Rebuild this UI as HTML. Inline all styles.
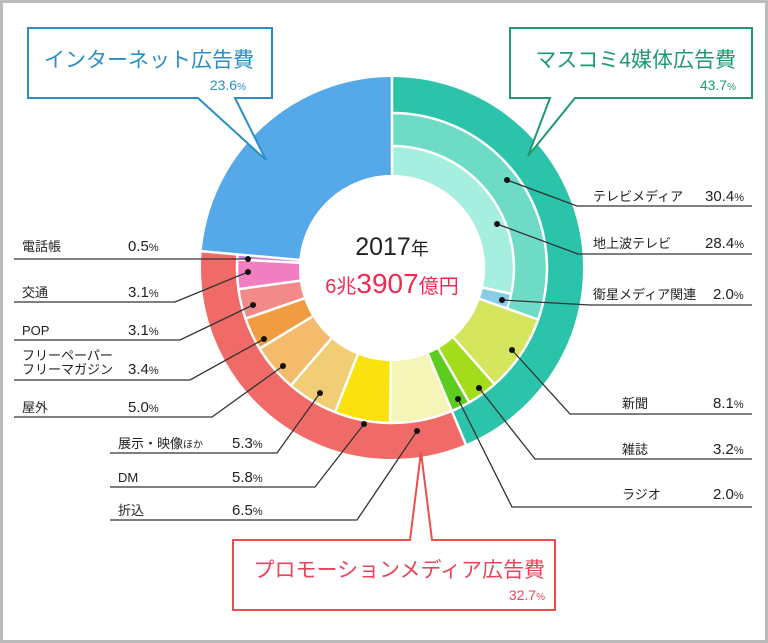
<!DOCTYPE html>
<html><head><meta charset="utf-8"><style>
html,body{margin:0;padding:0;background:#fff;}
svg{display:block;font-family:"Liberation Sans","Noto Sans CJK JP",sans-serif;}
</style></head><body>
<svg width="768" height="643" viewBox="0 0 768 643" xmlns="http://www.w3.org/2000/svg">
<rect x="1.5" y="1.5" width="765" height="640" fill="#fff" stroke="#bbb" stroke-width="3"/>
<g fill="none" transform="rotate(-90 392 268)">
<circle cx="392" cy="268" r="142" stroke="#55a9e8" stroke-width="98" pathLength="360" stroke-dasharray="85 360" stroke-dashoffset="-275"/>
<circle cx="392" cy="268" r="173" stroke="#2bc4aa" stroke-width="36" pathLength="360" stroke-dasharray="157.3 360" stroke-dashoffset="0"/>
<circle cx="392" cy="268" r="173" stroke="#f06b67" stroke-width="36" pathLength="360" stroke-dasharray="117.7 360" stroke-dashoffset="-157.3"/>
<circle cx="392" cy="268" r="138.5" stroke="#6ddbc5" stroke-width="33" pathLength="360" stroke-dasharray="109.4 360" stroke-dashoffset="0"/>
<circle cx="392" cy="268" r="107.5" stroke="#a6efe0" stroke-width="29" pathLength="360" stroke-dasharray="102.2 360" stroke-dashoffset="0"/>
<circle cx="392" cy="268" r="107.5" stroke="#87cde8" stroke-width="29" pathLength="360" stroke-dasharray="7.2 360" stroke-dashoffset="-102.2"/>
<g stroke-width="62">
<circle cx="392" cy="268" r="124" stroke="#d5e55e" pathLength="360" stroke-dasharray="29.2 360" stroke-dashoffset="-109.4"/>
<circle cx="392" cy="268" r="124" stroke="#a3dc1a" pathLength="360" stroke-dasharray="11.5 360" stroke-dashoffset="-138.6"/>
<circle cx="392" cy="268" r="124" stroke="#5ccc1e" pathLength="360" stroke-dasharray="7.2 360" stroke-dashoffset="-150.1"/>
<circle cx="392" cy="268" r="124" stroke="#f4f5b6" pathLength="360" stroke-dasharray="23.4 360" stroke-dashoffset="-157.3"/>
<circle cx="392" cy="268" r="124" stroke="#fae20e" pathLength="360" stroke-dasharray="20.9 360" stroke-dashoffset="-180.7"/>
<circle cx="392" cy="268" r="124" stroke="#f1ce76" pathLength="360" stroke-dasharray="19.1 360" stroke-dashoffset="-201.6"/>
<circle cx="392" cy="268" r="124" stroke="#f4bb6c" pathLength="360" stroke-dasharray="18 360" stroke-dashoffset="-220.7"/>
<circle cx="392" cy="268" r="124" stroke="#f29c42" pathLength="360" stroke-dasharray="12.2 360" stroke-dashoffset="-238.7"/>
<circle cx="392" cy="268" r="124" stroke="#f28a8a" pathLength="360" stroke-dasharray="11.2 360" stroke-dashoffset="-250.9"/>
<circle cx="392" cy="268" r="124" stroke="#f07ec0" pathLength="360" stroke-dasharray="11.1 360" stroke-dashoffset="-262.1"/>
<circle cx="392" cy="268" r="124" stroke="#c97ddc" pathLength="360" stroke-dasharray="1.8 360" stroke-dashoffset="-273.2"/>
</g>
<circle cx="392" cy="268" r="155" stroke="#fff" stroke-width="2.5" pathLength="360" stroke-dasharray="275 360" stroke-dashoffset="0"/>
<circle cx="392" cy="268" r="122" stroke="#fff" stroke-width="2.5" pathLength="360" stroke-dasharray="109.4 360" stroke-dashoffset="0"/>
</g>
<g stroke="#fff" stroke-width="2.5">
<line x1="392" y1="175" x2="392" y2="77"/>
<line x1="427.9" y1="353.7" x2="465.7" y2="444.1"/>
<line x1="299.4" y1="259.9" x2="201.7" y2="251.3"/>
<line x1="482.9" y1="287.6" x2="511.2" y2="293.8"/>
<line x1="479.7" y1="298.9" x2="538.2" y2="319.5"/>
<line x1="453.5" y1="337.7" x2="494.5" y2="384.3"/>
<line x1="438.4" y1="348.6" x2="469.3" y2="402.4"/>
<line x1="390.9" y1="361" x2="390.1" y2="423"/>
<line x1="357.8" y1="354.5" x2="335" y2="412.2"/>
<line x1="331.4" y1="338.5" x2="290.9" y2="385.5"/>
<line x1="312.6" y1="316.4" x2="259.6" y2="348.6"/>
<line x1="304.1" y1="298.4" x2="245.5" y2="318.7"/>
<line x1="299.8" y1="280.7" x2="238.4" y2="289.2"/>
<line x1="299.2" y1="262.8" x2="237.3" y2="259.4"/>
</g>
<circle cx="392" cy="268" r="93" fill="#fff"/>
<text x="392" y="255" text-anchor="middle" font-size="25" fill="#222">2017<tspan font-size="18">年</tspan></text>
<text x="392" y="293" text-anchor="middle" font-size="28" fill="#ee2a55"><tspan font-size="20">6兆</tspan>3907<tspan font-size="20">億円</tspan></text>
<g stroke="#333" stroke-width="1.3" fill="none">
<polyline points="14,259 248,259"/>
<polyline points="14,302 175,302 248,272"/>
<polyline points="14,340 180,340 253,305"/>
<polyline points="14,380 190,380 264,339"/>
<polyline points="14,417 212,417 283,366"/>
<polyline points="110,453 277,453 320,393"/>
<polyline points="110,487 315,487 364,424"/>
<polyline points="110,520 357,520 417,431"/>
<polyline points="752,206 577,206 507,180"/>
<polyline points="752,254 578,254 497,224"/>
<polyline points="752,305 590,305 502,300"/>
<polyline points="752,414 570,414 512,350"/>
<polyline points="752,459 535,459 479,388"/>
<polyline points="752,507 512,507 458,399"/>
</g>
<g fill="#111">
<circle cx="248" cy="259" r="3"/><circle cx="248" cy="272" r="3"/><circle cx="253" cy="305" r="3"/><circle cx="264" cy="339" r="3"/>
<circle cx="283" cy="366" r="3"/><circle cx="320" cy="393" r="3"/><circle cx="364" cy="424" r="3"/><circle cx="417" cy="431" r="3"/>
<circle cx="507" cy="180" r="3"/><circle cx="497" cy="224" r="3"/><circle cx="502" cy="300" r="3"/><circle cx="512" cy="350" r="3"/>
<circle cx="479" cy="388" r="3"/><circle cx="458" cy="399" r="3"/>
</g>
<g font-size="13" fill="#222">
<text x="22" y="251">電話帳</text><text x="128" y="251" font-size="15">0.5<tspan font-size="11">%</tspan></text>
<text x="22" y="297">交通</text><text x="128" y="297" font-size="15">3.1<tspan font-size="11">%</tspan></text>
<text x="22" y="335">POP</text><text x="128" y="335" font-size="15">3.1<tspan font-size="11">%</tspan></text>
<text x="22" y="360">フリーペーパー</text><text x="22" y="374">フリーマガジン</text><text x="128" y="374" font-size="15">3.4<tspan font-size="11">%</tspan></text>
<text x="22" y="412">屋外</text><text x="128" y="412" font-size="15">5.0<tspan font-size="11">%</tspan></text>
<text x="118" y="448">展示・映像<tspan font-size="10">ほか</tspan></text><text x="232" y="448" font-size="15">5.3<tspan font-size="11">%</tspan></text>
<text x="118" y="482">DM</text><text x="232" y="482" font-size="15">5.8<tspan font-size="11">%</tspan></text>
<text x="118" y="515">折込</text><text x="232" y="515" font-size="15">6.5<tspan font-size="11">%</tspan></text>
<text x="593" y="201">テレビメディア</text><text x="705" y="201" font-size="15">30.4<tspan font-size="11">%</tspan></text>
<text x="593" y="248">地上波テレビ</text><text x="705" y="248" font-size="15">28.4<tspan font-size="11">%</tspan></text>
<text x="593" y="299">衛星メディア関連</text><text x="713" y="299" font-size="15">2.0<tspan font-size="11">%</tspan></text>
<text x="622" y="408">新聞</text><text x="713" y="408" font-size="15">8.1<tspan font-size="11">%</tspan></text>
<text x="622" y="454">雑誌</text><text x="713" y="454" font-size="15">3.2<tspan font-size="11">%</tspan></text>
<text x="622" y="499">ラジオ</text><text x="713" y="499" font-size="15">2.0<tspan font-size="11">%</tspan></text>
</g>
<path d="M28,28 H272 V98 H235 L266,160 L198,98 H28 Z" fill="#fff" stroke="#2a8fc4" stroke-width="2"/>
<text x="44" y="67" font-size="21" fill="#2a8fc4">インターネット広告費</text>
<text x="246" y="90" font-size="14" fill="#2a8fc4" text-anchor="end">23.6<tspan font-size="10">%</tspan></text>
<path d="M510,28 H752 V98 H575 L528,156 L550,98 H510 Z" fill="#fff" stroke="#1f9a70" stroke-width="2"/>
<text x="736" y="67" font-size="21" fill="#1f9a70" text-anchor="end">マスコミ4媒体広告費</text>
<text x="736" y="90" font-size="14" fill="#1f9a70" text-anchor="end">43.7<tspan font-size="10">%</tspan></text>
<path d="M233,540 H410 L421,452 L432,540 H555 V610 H233 Z" fill="#fff" stroke="#e8504e" stroke-width="2"/>
<text x="545" y="577" font-size="21" fill="#e8455a" text-anchor="end">プロモーションメディア広告費</text>
<text x="545" y="600" font-size="14" fill="#e8455a" text-anchor="end">32.7<tspan font-size="10">%</tspan></text>
</svg>
</body></html>
